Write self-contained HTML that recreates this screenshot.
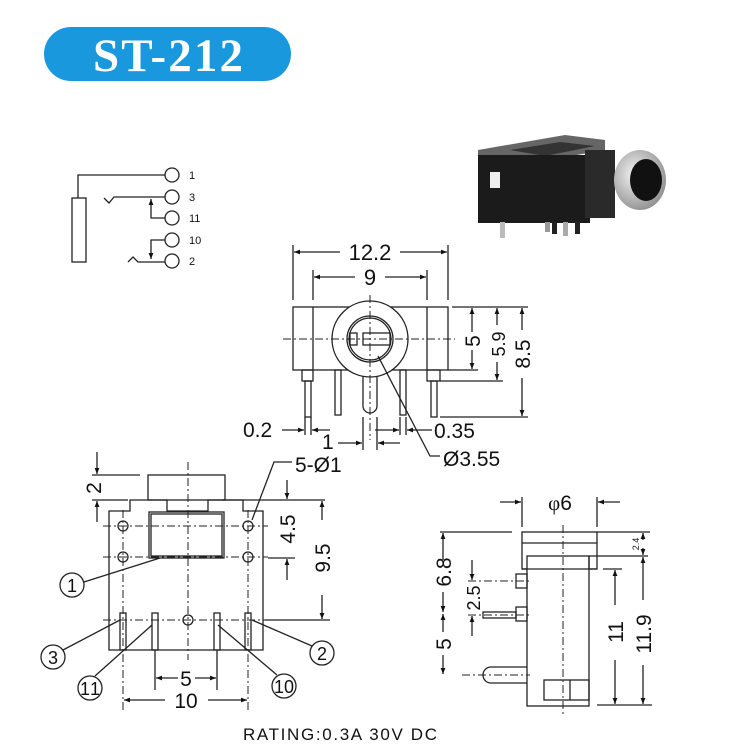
<!DOCTYPE html>
<html><head><meta charset="utf-8"><style>
html,body{margin:0;padding:0;background:#fff;}
svg{display:block;}
text{font-family:"Liberation Sans",sans-serif;fill:#111;}
</style></head><body>
<svg width="735" height="744" viewBox="0 0 735 744" xmlns="http://www.w3.org/2000/svg">
<defs>
<marker id="a" viewBox="0 0 10 10" refX="10" refY="5" markerWidth="8" markerHeight="6" orient="auto-start-reverse" markerUnits="userSpaceOnUse"><path d="M0 1 L10 5 L0 9z" fill="#111"/></marker>
<radialGradient id="g" cx="0.4" cy="0.4" r="0.7"><stop offset="0" stop-color="#f4f4f4"/><stop offset="1" stop-color="#888"/></radialGradient>
</defs>
<rect x="44" y="27" width="247" height="54" rx="27" fill="#1a98dd"/>
<text x="168" y="71" text-anchor="middle" style="font-family:'Liberation Serif',serif;font-weight:bold;font-size:47px;fill:#fff" textLength="150">ST-212</text>

<!-- schematic -->
<g stroke="#222" stroke-width="1.3" fill="none">
<circle cx="172" cy="175" r="7"/><circle cx="172" cy="197" r="7"/><circle cx="172" cy="218" r="7"/><circle cx="172" cy="240" r="7"/><circle cx="172" cy="261" r="7"/>
<path d="M165 175 H78 V198"/><rect x="72" y="198" width="14" height="64"/>
<path d="M104 198 l5 5 l5 -6 H165"/>
<path d="M165 218 H151 V199" marker-end="url(#a)"/>
<path d="M165 240 H151 V259" marker-end="url(#a)"/>
<path d="M128 262 l5 -5 l5 5 H165"/>
</g>
<g style="font-size:11px"><text x="189" y="179">1</text><text x="189" y="201">3</text><text x="189" y="222">11</text><text x="189" y="244">10</text><text x="189" y="265">2</text></g>

<!-- photo -->
<g>
<polygon points="478,150 565,135 605,140 605,150 520,165 478,158" fill="#666"/>
<polygon points="510,150 560,142 595,146 545,156" fill="#333"/>
<rect x="478" y="155" width="112" height="68" fill="#1b1b1b"/>
<rect x="585" y="150" width="30" height="68" fill="#2a2a2a"/>
<rect x="490" y="172" width="10" height="16" fill="#eee"/>
<ellipse cx="640" cy="180" rx="26" ry="30" fill="url(#g)"/>
<ellipse cx="646" cy="180" rx="16" ry="21" fill="#111"/>
<rect x="500" y="222" width="5" height="16" fill="#bbb"/>
<rect x="545" y="222" width="5" height="10" fill="#999"/>
<rect x="552" y="222" width="5" height="12" fill="#222"/>
<rect x="563" y="222" width="5" height="14" fill="#aaa"/>
<rect x="575" y="222" width="5" height="12" fill="#222"/>
</g>

<!-- front view -->
<g stroke="#222" stroke-width="1.3" fill="none">
<rect x="293" y="307" width="155" height="63" fill="#fff"/>
<line x1="313" y1="307" x2="313" y2="370"/><line x1="427" y1="307" x2="427" y2="370"/>
<rect x="302" y="370" width="11" height="11"/><rect x="427" y="370" width="13" height="11"/>
<rect x="305" y="381" width="6" height="36"/><rect x="431" y="381" width="6" height="36"/>
<rect x="335" y="370" width="6" height="45"/><rect x="400" y="370" width="6" height="45"/>
<path d="M363 370 V406 a7 7 0 0 0 14 0 V370"/>
<circle cx="370" cy="339" r="38" fill="#fff"/>
<circle cx="370" cy="339" r="23"/><circle cx="370" cy="339" r="21"/>
<rect x="363" y="333" width="27" height="12"/><rect x="350" y="333" width="7" height="12"/>
<path d="M283 339 H455 M370 295 V440" stroke-dasharray="8 3 2 3" stroke-width="1"/>
<path d="M293 245 V300 M448 245 V300 M313 270 V300 M427 270 V300"/>
<path d="M340 252 H294" marker-end="url(#a)"/><path d="M400 252 H447" marker-end="url(#a)"/>
<path d="M355 277 H314" marker-end="url(#a)"/><path d="M385 277 H426" marker-end="url(#a)"/>
<path d="M452 307 H528 M448 370 H478 M440 381 H503 M440 417 H528"/>
<path d="M472 332 V308" marker-end="url(#a)"/><path d="M472 350 V369" marker-end="url(#a)"/>
<path d="M497 325 V308" marker-end="url(#a)"/><path d="M497 362 V380" marker-end="url(#a)"/>
<path d="M522 330 V308" marker-end="url(#a)"/><path d="M522 378 V416" marker-end="url(#a)"/>
<path d="M282 430 H304" marker-end="url(#a)"/><path d="M330 430 H312" marker-end="url(#a)"/>
<path d="M305 417 V435 M311 417 V435 M363 417 V450 M377 417 V450 M400 417 V435 M406 417 V435"/>
<path d="M338 443 H362" marker-end="url(#a)"/><path d="M400 443 H378" marker-end="url(#a)"/>
<path d="M375 430 H399" marker-end="url(#a)"/><path d="M432 430 H407" marker-end="url(#a)"/>
<path d="M378 356 L430 456 H440"/>
</g>
<g style="font-size:21px">
<text x="370" y="260" text-anchor="middle" style="font-size:22px">12.2</text>
<text x="370" y="285" text-anchor="middle" style="font-size:22px">9</text>
<text transform="translate(480,341) rotate(-90)" text-anchor="middle">5</text>
<text transform="translate(505,344) rotate(-90)" text-anchor="middle" style="font-size:18px">5.9</text>
<text transform="translate(530,354) rotate(-90)" text-anchor="middle">8.5</text>
<text x="243" y="437">0.2</text>
<text x="322" y="449">1</text>
<text x="434" y="438">0.35</text>
<text x="443" y="466">Ø3.55</text>
<text x="295" y="472">5-Ø1</text>
</g>

<!-- bottom view -->
<g stroke="#222" stroke-width="1.3" fill="none">
<path d="M109 650 V511 H130 V500 H167 V511 H208 V500 H243 V511 H263 V650 Z"/>
<rect x="148" y="475" width="77" height="25"/>
<rect x="149" y="512" width="75" height="46"/>
<rect x="151" y="514" width="71" height="42"/>
<path d="M103 526 H268 M103 557 H268 M103 620 H268" stroke-dasharray="8 3 2 3" stroke-width="1"/>
<path d="M188 462 V660 M123 510 V710 M248 510 V710" stroke-dasharray="8 3 2 3" stroke-width="1"/>
<circle cx="123" cy="526" r="5"/><circle cx="123" cy="557" r="5"/><circle cx="248" cy="526" r="5"/><circle cx="248" cy="557" r="5"/><circle cx="188" cy="620" r="5"/>
<rect x="120" y="613" width="6" height="37"/><rect x="152" y="613" width="6" height="37"/><rect x="214" y="613" width="6" height="37"/><rect x="245" y="613" width="6" height="37"/>
<circle cx="72" cy="585" r="12"/><circle cx="53" cy="657" r="12"/><circle cx="90" cy="688" r="12"/><circle cx="284" cy="686" r="12"/><circle cx="322" cy="653" r="12"/>
<path d="M84 582 L160 558 M63 650 L120 620 M95 676 L152 625 M277 675 L218 625 M312 646 L252 620 M252 520 L274 462 H292"/>
<path d="M92 475 H140 M92 500 H128"/>
<path d="M97 452 V474" marker-end="url(#a)"/><path d="M97 522 V501" marker-end="url(#a)"/>
<path d="M222 500 H325 M268 558 H295 M265 620 H330"/>
<path d="M287 480 V499" marker-end="url(#a)"/><path d="M287 580 V559" marker-end="url(#a)"/>
<path d="M322 520 V501" marker-end="url(#a)"/><path d="M322 595 V619" marker-end="url(#a)"/>
<path d="M155 650 V690 M217 650 V690"/>
<path d="M178 678 H156" marker-end="url(#a)"/><path d="M195 678 H216" marker-end="url(#a)"/>
<path d="M165 700 H124" marker-end="url(#a)"/><path d="M208 700 H247" marker-end="url(#a)"/>
</g>
<g style="font-size:21px">
<text transform="translate(101,488) rotate(-90)" text-anchor="middle">2</text>
<text transform="translate(295,529) rotate(-90)" text-anchor="middle">4.5</text>
<text transform="translate(330,558) rotate(-90)" text-anchor="middle">9.5</text>
<text x="186" y="686" text-anchor="middle">5</text>
<text x="186" y="708" text-anchor="middle">10</text>
<text x="72" y="592" text-anchor="middle" style="font-size:18px">1</text>
<text x="53" y="664" text-anchor="middle" style="font-size:18px">3</text>
<text x="90" y="695" text-anchor="middle" style="font-size:18px" textLength="20">11</text>
<text x="284" y="693" text-anchor="middle" style="font-size:18px" textLength="20">10</text>
<text x="322" y="660" text-anchor="middle" style="font-size:18px">2</text>
</g>

<!-- side view -->
<g stroke="#222" stroke-width="1.3" fill="none">
<rect x="522" y="532" width="75" height="37"/><line x1="522" y1="543" x2="597" y2="543"/>
<rect x="527" y="556" width="62" height="150" fill="#fff"/>
<line x1="522" y1="569" x2="597" y2="569"/>
<line x1="589" y1="556" x2="589" y2="569"/>
<rect x="516" y="574" width="11" height="14"/><rect x="516" y="607" width="11" height="14"/>
<rect x="483" y="612" width="33" height="6"/>
<path d="M527 667 H491 a8 8 0 0 0 0 16 H527"/>
<rect x="544" y="680" width="45" height="20"/><line x1="570" y1="680" x2="570" y2="700"/>
<path d="M563 525 V715" stroke-dasharray="8 3 2 3" stroke-width="1"/>
<path d="M468 581 H530 M468 615 H530 M462 675 H530" stroke-dasharray="8 3 2 3" stroke-width="1"/>
<path d="M522 497 V527 M597 497 V527"/>
<path d="M500 502 H521" marker-end="url(#a)"/><path d="M620 502 H598" marker-end="url(#a)"/>
<path d="M440 532 H512"/>
<path d="M443 560 V533" marker-end="url(#a)"/><path d="M443 592 V612" marker-end="url(#a)"/>
<path d="M443 632 V614" marker-end="url(#a)"/><path d="M443 655 V674" marker-end="url(#a)"/>
<path d="M472 560 V580" marker-end="url(#a)"/><path d="M472 636 V616" marker-end="url(#a)"/>
<path d="M597 532 H650 M589 556 H648 M603 569 H622 M597 705 H652"/>
<path d="M643 540 V533" marker-end="url(#a)"/><path d="M643 548 V555" marker-end="url(#a)"/>
<path d="M615 605 V570" marker-end="url(#a)"/><path d="M615 660 V704" marker-end="url(#a)"/>
<path d="M643 600 V557" marker-end="url(#a)"/><path d="M643 665 V704" marker-end="url(#a)"/>
</g>
<g style="font-size:21px">
<text x="560" y="510" text-anchor="middle"><tspan style="font-family:'Liberation Serif',serif">φ</tspan>6</text>
<text transform="translate(451,572) rotate(-90)" text-anchor="middle">6.8</text>
<text transform="translate(480,598) rotate(-90)" text-anchor="middle" style="font-size:18px">2.5</text>
<text transform="translate(451,644) rotate(-90)" text-anchor="middle">5</text>
<text transform="translate(623,632) rotate(-90)" text-anchor="middle">11</text>
<text transform="translate(651,634) rotate(-90)" text-anchor="middle">11.9</text>
<text transform="translate(639,544) rotate(-90)" text-anchor="middle" style="font-size:9px">2.4</text>
</g>

<text x="243" y="740" style="font-size:17px" textLength="194">RATING:0.3A 30V DC</text>
</svg>
</body></html>
